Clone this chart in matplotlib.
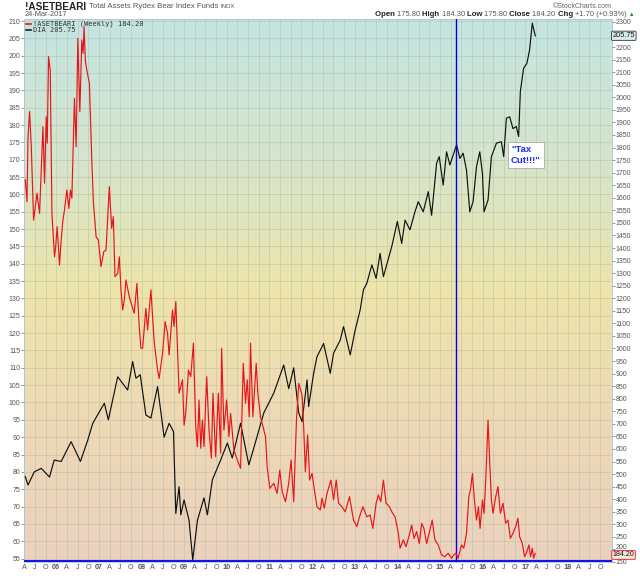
import matplotlib
matplotlib.use('Agg')
import numpy as np
import matplotlib.pyplot as plt
import matplotlib.transforms as mtransforms
from matplotlib.colors import LinearSegmentedColormap
from matplotlib.ticker import FixedLocator

plt.rcParams['font.family'] = ['Liberation Sans', 'DejaVu Sans']

# DIA (black, left axis) - decimal year / price
dia_dates = [2005.276, 2005.339, 2005.486, 2005.650, 2005.843, 2005.953, 2006.117, 2006.350,
             2006.568, 2006.741, 2006.857, 2007.129, 2007.222, 2007.442, 2007.675, 2007.792,
             2007.869, 2007.970, 2008.103, 2008.220, 2008.376, 2008.530, 2008.647, 2008.750,
             2008.804, 2008.881, 2008.921, 2008.998, 2009.114, 2009.201, 2009.311, 2009.465,
             2009.544, 2009.661, 2009.855, 2010.012, 2010.128, 2010.322, 2010.516, 2010.633,
             2010.867, 2011.100, 2011.334, 2011.451, 2011.568, 2011.685, 2011.764, 2011.881,
             2011.918, 2012.035, 2012.114, 2012.269, 2012.425, 2012.502, 2012.659, 2012.736,
             2012.893, 2013.009, 2013.126, 2013.203, 2013.283, 2013.400, 2013.500, 2013.593,
             2013.671, 2013.867, 2013.998, 2014.100, 2014.178, 2014.294, 2014.411, 2014.488,
             2014.605, 2014.722, 2014.801, 2014.918, 2014.979, 2015.072, 2015.152, 2015.229,
             2015.386, 2015.463, 2015.540, 2015.619, 2015.696, 2015.773, 2015.853, 2015.930,
             2015.993, 2016.030, 2016.124, 2016.203, 2016.320, 2016.437, 2016.491, 2016.554,
             2016.631, 2016.708, 2016.787, 2016.841, 2016.881, 2016.958, 2017.035, 2017.098,
             2017.161, 2017.231]
dia_values = [78.6, 76.2, 80.0, 81.0, 78.5, 83.4, 83.0, 88.7,
              83.0, 89.2, 94.0, 99.8, 95.0, 107.4, 103.6, 111.8,
              107.0, 108.0, 96.4, 95.5, 104.6, 90.0, 94.0, 91.6,
              68.0, 75.7, 67.6, 71.9, 66.0, 54.6, 66.0, 72.5,
              67.6, 77.7, 83.4, 88.3, 84.0, 94.0, 82.0, 86.9,
              97.0, 102.7, 110.8, 104.0, 110.0, 97.0, 94.5, 106.5,
              98.8, 108.4, 113.2, 117.0, 108.4, 114.2, 118.0, 121.9,
              113.7, 120.9, 126.7, 132.5, 134.4, 139.7, 135.8, 143.0,
              136.3, 145.0, 152.2, 145.9, 152.6, 149.8, 155.0, 157.9,
              155.0, 160.8, 154.0, 169.0, 170.9, 162.7, 172.3, 168.5,
              174.3, 170.4, 171.9, 167.0, 155.0, 157.9, 168.0, 172.3,
              166.0, 155.0, 158.4, 170.9, 174.8, 175.2, 170.9, 182.0,
              182.4, 179.0, 179.6, 176.7, 189.7, 196.4, 197.8, 201.7,
              209.4, 205.75]

# !ASETBEARI total assets (red, right axis, $ millions)
bear_dates = [2005.276, 2005.315, 2005.339, 2005.376, 2005.416, 2005.470, 2005.509, 2005.549,
              2005.610, 2005.689, 2005.727, 2005.766, 2005.790, 2005.820, 2005.860, 2005.900,
              2005.960, 2005.984, 2006.023, 2006.077, 2006.117, 2006.157, 2006.194, 2006.250,
              2006.297, 2006.334, 2006.367, 2006.428, 2006.467, 2006.507, 2006.554, 2006.600,
              2006.631, 2006.654, 2006.685, 2006.724, 2006.778, 2006.834, 2006.871, 2006.935,
              2006.988, 2007.051, 2007.114, 2007.168, 2007.245, 2007.301, 2007.339, 2007.378,
              2007.442, 2007.479, 2007.519, 2007.558, 2007.596, 2007.636, 2007.713, 2007.829,
              2007.892, 2007.946, 2007.986, 2008.026, 2008.103, 2008.142, 2008.220, 2008.297,
              2008.376, 2008.414, 2008.493, 2008.554, 2008.610, 2008.647, 2008.727, 2008.764,
              2008.804, 2008.881, 2008.960, 2008.998, 2009.037, 2009.100, 2009.154, 2009.217,
              2009.271, 2009.311, 2009.348, 2009.388, 2009.428, 2009.465, 2009.528, 2009.582,
              2009.638, 2009.675, 2009.738, 2009.801, 2009.855, 2009.878, 2009.932, 2009.995,
              2010.049, 2010.089, 2010.166, 2010.245, 2010.322, 2010.385, 2010.439, 2010.479,
              2010.526, 2010.556, 2010.610, 2010.689, 2010.727, 2010.790, 2010.907, 2010.946,
              2011.007, 2011.100, 2011.180, 2011.241, 2011.297, 2011.374, 2011.451, 2011.507,
              2011.568, 2011.631, 2011.685, 2011.764, 2011.801, 2011.841, 2011.895, 2011.942,
              2011.998, 2012.035, 2012.114, 2012.191, 2012.231, 2012.285, 2012.348, 2012.441,
              2012.502, 2012.565, 2012.619, 2012.698, 2012.776, 2012.876, 2012.970, 2013.049,
              2013.110, 2013.189, 2013.283, 2013.360, 2013.423, 2013.500, 2013.554, 2013.610,
              2013.671, 2013.734, 2013.811, 2013.867, 2013.944, 2014.021, 2014.061, 2014.138,
              2014.201, 2014.278, 2014.334, 2014.388, 2014.451, 2014.512, 2014.568, 2014.621,
              2014.684, 2014.762, 2014.815, 2014.879, 2014.955, 2015.035, 2015.112, 2015.189,
              2015.268, 2015.322, 2015.369, 2015.423, 2015.502, 2015.556, 2015.619, 2015.673,
              2015.712, 2015.759, 2015.797, 2015.853, 2015.899, 2015.937, 2015.993, 2016.030,
              2016.070, 2016.124, 2016.164, 2016.203, 2016.241, 2016.304, 2016.357, 2016.413,
              2016.474, 2016.537, 2016.591, 2016.647, 2016.708, 2016.771, 2016.825, 2016.864,
              2016.927, 2016.981, 2017.035, 2017.082, 2017.121, 2017.161, 2017.192, 2017.231]
bear_values = [1671, 1584, 1843, 1943, 1803, 1511, 1564, 1618,
               1538, 1883, 1658, 1923, 1817, 2162, 2109, 1538,
               1365, 1399, 1485, 1332, 1432, 1511, 1551, 1631,
               1558, 1631, 1598, 1996, 1803, 2235, 1943, 2228,
               2175, 2281, 2142, 2102, 2056, 1750, 1584, 1445,
               1432, 1326, 1385, 1392, 1644, 1478, 1525, 1286,
               1299, 1365, 1233, 1153, 1193, 1273, 1206, 1140,
               1259, 1087, 1001, 1001, 1160, 1074, 1233, 1027,
               914, 881, 981, 1107, 1060, 974, 1153, 1087,
               1186, 822, 875, 695, 742, 914, 888, 1021,
               689, 609, 795, 603, 715, 609, 888, 675,
               563, 822, 569, 822, 583, 1001, 675, 795,
               649, 742, 596, 556, 523, 941, 782, 875,
               728, 1021, 728, 941, 822, 728, 649, 529,
               443, 463, 423, 516, 430, 390, 463, 556,
               390, 709, 861, 815, 689, 509, 656, 476,
               503, 457, 370, 357, 404, 364, 423, 476,
               397, 476, 384, 370, 350, 410, 317, 291,
               330, 370, 330, 337, 284, 384, 417, 390,
               476, 384, 370, 350, 330, 264, 205, 238,
               211, 257, 297, 244, 271, 224, 304, 284,
               224, 277, 317, 238, 218, 178, 171, 185,
               165, 178, 185, 165, 218, 205, 264, 410,
               437, 503, 410, 317, 370, 284, 397, 344,
               476, 715, 543, 397, 344, 410, 450, 344,
               384, 304, 317, 244, 264, 291, 324, 251,
               224, 171, 191, 218, 171, 205, 165, 184.2]

left_ticks = list(range(55, 211, 5))
right_ticks = list(range(150, 2301, 50))
year_labels = ['05', '06', '07', '08', '09', '10', '11', '12', '13', '14', '15', '16', '17', '18']

fig = plt.figure(figsize=(6.4, 5.76), dpi=100)
fig.patch.set_facecolor('white')
ax = fig.add_axes([24 / 640, 14 / 576, 588 / 640, 543 / 576])

# background gradient
bg = LinearSegmentedColormap.from_list('bg', [(0.0, '#ebd2bf'), (0.25, '#eed9b6'),
                                              (0.5, '#ede4aa'), (0.75, '#d5e5cd'),
                                              (1.0, '#c4e4e2')])
ax.imshow(np.linspace(0, 1, 256).reshape(-1, 1), cmap=bg, origin='lower', aspect='auto',
          extent=[0, 1, 0, 1], transform=ax.transAxes, zorder=0)

ax.plot(dia_dates, dia_values, color='#111111', lw=0.85, zorder=3)
ax.set_xlim(2005.245, 2019.03)
ax.set_ylim(54, 210.6)

# x ticks: quarterly, year number at January
qpos, qlab = [], []
for i, y in enumerate(range(2005, 2019)):
    for k, m in enumerate(['', 'A', 'J', 'O']):
        p = y + k * 0.25
        if p < 2005.25:
            continue
        qpos.append(p)
        qlab.append(m if k else year_labels[i])
ax.xaxis.set_major_locator(FixedLocator(qpos))
ax.set_xticklabels(qlab)
shift = mtransforms.ScaledTranslation(2.5 / 100, 0, fig.dpi_scale_trans)
for t, lab in zip(ax.get_xticklabels(), qlab):
    t.set_transform(t.get_transform() + shift)
    if lab.isdigit():
        t.set_fontweight('bold')
        t.set_color('#222222')
ax.tick_params(axis='x', length=0, labelsize=5.2, labelcolor='#555555', pad=1.5)
ax.yaxis.set_major_locator(FixedLocator(left_ticks))
ax.set_yticklabels([str(v) for v in left_ticks])
ax.tick_params(axis='y', length=2, width=0.6, color='#888888', labelsize=5, labelcolor='#555555', pad=0.8)
ax.grid(True, color='#9fae9c', lw=0.5, alpha=0.45, zorder=1)
for s in ax.spines.values():
    s.set_color('#b0c4cc')
    s.set_linewidth(0.6)

ax.axvline(2015.362, color='#0000ee', lw=1.0, zorder=4)
ax.axhline(54.3, color='#0000ee', lw=1.3, zorder=4)

ax2 = ax.twinx()
ax2.plot(bear_dates, bear_values, color='#e8141b', lw=0.85, zorder=3)
ax2.set_ylim(150, 2311.7)
ax2.yaxis.set_major_locator(FixedLocator(right_ticks))
# the 2250 label sits under the DIA value tag in the original
ax2.set_yticklabels(['' if v == 2250 else str(v) for v in right_ticks])
ax2.tick_params(axis='y', length=2, width=0.6, color='#888888', labelsize=5, labelcolor='#555555', pad=0.8)
up = mtransforms.ScaledTranslation(0, 2.5 / 100, fig.dpi_scale_trans)
for t, v in zip(ax2.get_yticklabels(), right_ticks):
    if v == 200:
        t.set_transform(t.get_transform() + up)
for s in ax2.spines.values():
    s.set_visible(False)

# last value tags on the right axis
ax2.text(1.001, 2245, '205.75', transform=ax2.get_yaxis_transform(), fontsize=5.3, va='center',
         ha='left', color='#111111', zorder=6,
         bbox=dict(boxstyle='round,pad=0.15', fc='#d8ecec', ec='#333333', lw=0.6))
ax2.text(1.001, 178, '184.20', transform=ax2.get_yaxis_transform(), fontsize=5.1, va='center',
         ha='left', color='#111111', zorder=6,
         bbox=dict(boxstyle='round,pad=0.12', fc='#f3e6dc', ec='#e8141b', lw=0.6))

# legend
mono = 'DejaVu Sans Mono'
ax.plot([0.003, 0.012], [0.9915, 0.9915], transform=ax.transAxes, color='#e8141b', lw=1.2, zorder=6)
ax.text(0.015, 0.9915, '!ASETBEARI (Weekly) 184.20', transform=ax.transAxes, fontsize=5,
        family=mono, color='#333333', va='center', zorder=6)
ax.plot([0.003, 0.012], [0.980, 0.980], transform=ax.transAxes, color='#222222', lw=1.2, zorder=6)
ax.text(0.015, 0.980, 'DIA 205.75', transform=ax.transAxes, fontsize=5,
        family=mono, color='#333333', va='center', zorder=6)

# annotation
ax.text(2016.66, 171.4, '"Tax\nCut!!!"', fontsize=6.8, fontweight='bold', color='#1a2be8',
        va='center', ha='left', linespacing=1.3, zorder=7,
        bbox=dict(boxstyle='square,pad=0.35', fc='white', ec='#aaaaaa', lw=0.6))

# header
renderer = fig.canvas.get_renderer()


def chain(x, y, parts):
    for txt, kw in parts:
        t = fig.text(x, y, txt, va='center', **kw)
        x += t.get_window_extent(renderer).width / fig.bbox.width


chain(25 / 640, 1 - 7 / 576, [
    ('!ASETBEARI ', dict(fontsize=7.2, fontweight='bold', color='#222222')),
    ('Total Assets Rydex Bear Index Funds ', dict(fontsize=5.6, color='#555555')),
    ('INDX', dict(fontsize=4.3, color='#555555')),
])
fig.text(25 / 640, 1 - 15 / 576, '24-Mar-2017', fontsize=5.3, color='#555555', va='center')
fig.text(612 / 640, 1 - 6 / 576, '\u00a9StockCharts.com', fontsize=5, color='#666666',
         va='center', ha='right')
chain(375 / 640, 1 - 15 / 576, [
    ('Open ', dict(fontsize=5.6, fontweight='bold', color='#222222')),
    ('175.80 ', dict(fontsize=5.4, color='#555555')),
    ('High ', dict(fontsize=5.6, fontweight='bold', color='#222222')),
    ('184.30 ', dict(fontsize=5.4, color='#555555')),
    ('Low ', dict(fontsize=5.6, fontweight='bold', color='#222222')),
    ('175.80 ', dict(fontsize=5.4, color='#555555')),
    ('Close ', dict(fontsize=5.6, fontweight='bold', color='#222222')),
    ('184.20 ', dict(fontsize=5.4, color='#555555')),
    ('Chg ', dict(fontsize=5.6, fontweight='bold', color='#222222')),
    ('+1.70 (+0.93%) ', dict(fontsize=5.4, color='#555555')),
    ('\u25b2', dict(fontsize=4, color='#1a8a1a')),
])

fig.savefig('out.png', dpi=100, facecolor='white')
